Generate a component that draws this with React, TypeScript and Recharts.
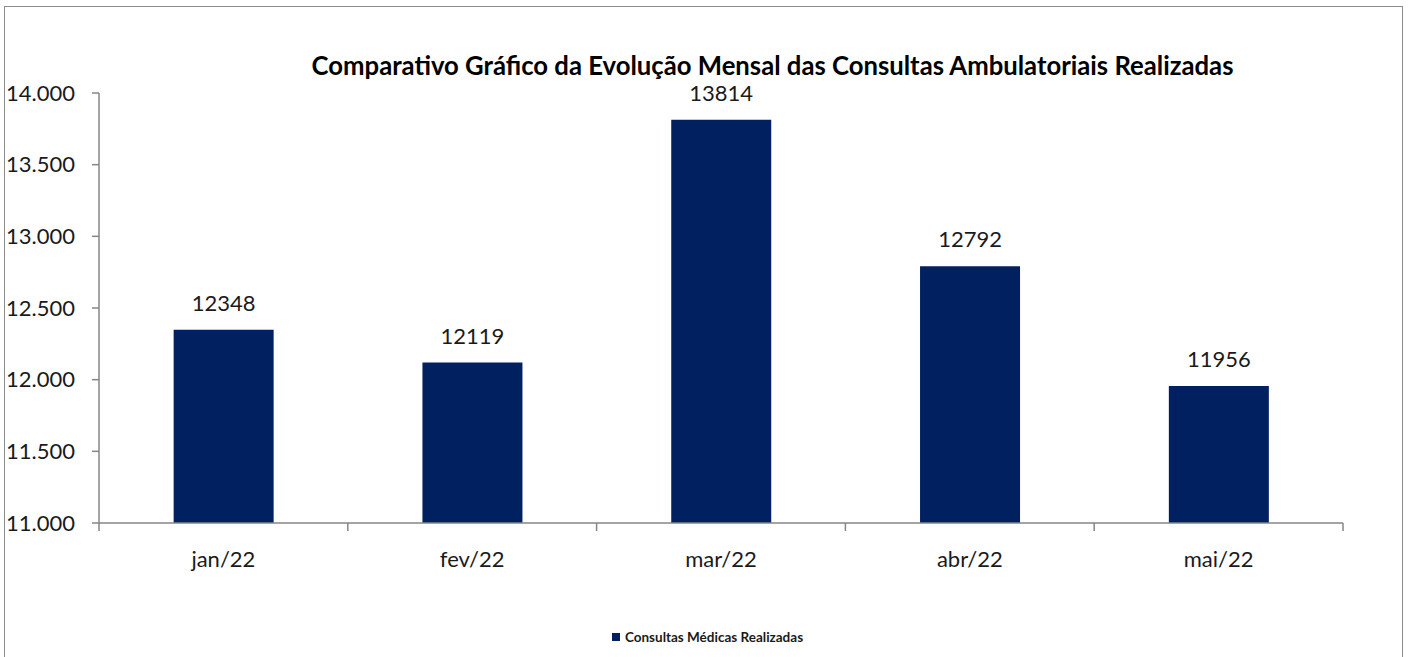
import * as React from "react";
import { BarChart, Bar, XAxis, YAxis, Legend, LabelList } from "recharts";

const months = ["jan/22", "fev/22", "mar/22", "abr/22", "mai/22"];
const consultas = [12348, 12119, 13814, 12792, 11956];
const yTicks = [11000, 11500, 12000, 12500, 13000, 13500, 14000];

const W = 1411;
const H = 657;
const MARGIN = { top: 93, right: 68, bottom: 10, left: 0 };
const Y_AXIS_W = 99;
const BAND = (W - MARGIN.left - Y_AXIS_W - MARGIN.right) / months.length;

const FONT = "Lato, 'Open Sans', sans-serif";
const NAVY = "#002060";
const AXIS = "#868686";

const data = months.map((m, i) => ({ month: m, consultas: consultas[i] }));

const fmt = (v: number) => String(v).replace(/\B(?=(\d{3})+(?!\d))/g, ".");

const MonthTick = (props: any) => {
  const { x, y, payload, index } = props;
  const top = y;
  return (
    <g>
      <line x1={x - BAND / 2} x2={x - BAND / 2} y1={top} y2={top + 8} stroke={AXIS} strokeWidth={1.5} />
      {index === months.length - 1 && (
        <line x1={x + BAND / 2} x2={x + BAND / 2} y1={top} y2={top + 8} stroke={AXIS} strokeWidth={1.5} />
      )}
      <text x={x} y={top + 44} textAnchor="middle" fontFamily={FONT} fontSize={22} fill="#1a1a1a">
        {payload.value}
      </text>
    </g>
  );
};

const LegendContent = () => (
  <div
    style={{
      display: "flex",
      justifyContent: "center",
      alignItems: "center",
      height: 20,
      fontFamily: FONT,
      fontSize: 13.5,
      fontWeight: 700,
      color: "#1a1a1a",
      paddingLeft: 4,
    }}
  >
    <span style={{ width: 8, height: 8, background: NAVY, marginRight: 5, display: "inline-block" }} />
    Consultas Médicas Realizadas
  </div>
);

export default function App() {
  return (
    <div style={{ position: "absolute", left: 0, top: 0, width: W, height: H, background: "#fff", overflow: "hidden" }}>
      <div
        style={{
          position: "absolute",
          left: 4,
          top: 6,
          width: 1397,
          height: 700,
          border: "1.5px solid #8c8c8c",
        }}
      />
      <div
        style={{
          position: "absolute",
          left: 0,
          top: 53,
          width: 1545,
          textAlign: "center",
          fontFamily: FONT,
          fontWeight: 700,
          fontSize: 25.7,
          lineHeight: 1,
          color: "#000",
        }}
      >
        Comparativo Gráfico da Evolução Mensal das Consultas Ambulatoriais Realizadas
      </div>
      <BarChart width={W} height={H} data={data} margin={MARGIN} barCategoryGap="30%">
        <XAxis
          dataKey="month"
          height={H - MARGIN.top - MARGIN.bottom - 20 - 430}
          axisLine={{ stroke: AXIS, strokeWidth: 1.5 }}
          tickLine={false}
          tickSize={0}
          tickMargin={0}
          tick={<MonthTick />}
          interval={0}
        />
        <YAxis
          width={Y_AXIS_W}
          domain={[11000, 14000]}
          ticks={yTicks}
          tickFormatter={fmt}
          axisLine={{ stroke: AXIS, strokeWidth: 1.5 }}
          tickLine={{ stroke: AXIS, strokeWidth: 1.5 }}
          tickSize={7}
          tickMargin={17}
          tick={{ fontFamily: FONT, fontSize: 22, fill: "#1a1a1a" }}
          allowDataOverflow
        />
        <Legend
          verticalAlign="bottom"
          height={20}
          width={W}
          wrapperStyle={{ left: 0 }}
          content={<LegendContent />}
        />
        <Bar dataKey="consultas" fill={NAVY} isAnimationActive={false}>
          <LabelList
            dataKey="consultas"
            position="top"
            offset={19}
            fontFamily={FONT}
            fontSize={22}
            fill="#1a1a1a"
          />
        </Bar>
      </BarChart>
    </div>
  );
}
